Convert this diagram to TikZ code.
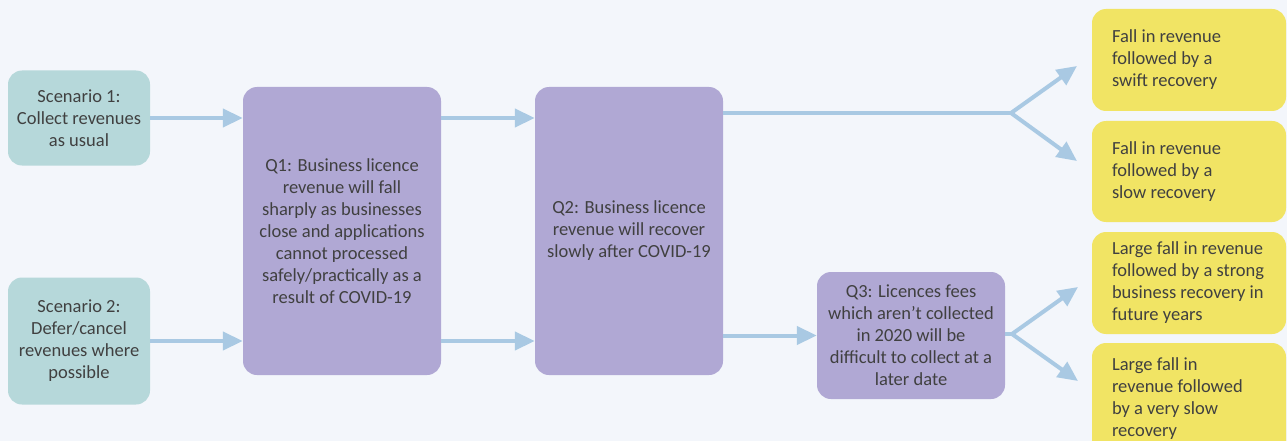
\documentclass[tikz,border=0pt]{standalone}
\usepackage{fontspec}
\setmainfont{Carlito}
\usetikzlibrary{arrows.meta}
\definecolor{bgc}{HTML}{F3F6FB}
\definecolor{tealc}{HTML}{B6D8DA}
\definecolor{purc}{HTML}{B0A8D4}
\definecolor{yelc}{HTML}{F1E464}
\definecolor{arrc}{HTML}{A9C9E3}
\definecolor{txtc}{HTML}{404040}
\tikzset{
  box/.style={rounded corners=14pt, inner sep=0pt, align=center, text=txtc,
    font=\fontsize{18.5}{22}\selectfont},
  scen/.style={box, fill=tealc, minimum width=142pt},
  quest/.style={box, fill=purc},
  outc/.style={box, fill=yelc, minimum width=194pt, text width=154pt, align=flush left},
  link/.style={draw=arrc, line width=4pt},
  arr/.style={link, -{Triangle[length=20pt,width=18pt]}},
}
\begin{document}
\begin{tikzpicture}[x=1pt,y=-1pt]
  \fill[bgc] (0,0) rectangle (1287,441);
  \useasboundingbox (0,0) rectangle (1287,441);
  \clip (0,0) rectangle (1287,441);

  % scenarios
  \node[scen, minimum height=95pt] (s1) at (79,118) {Scenario 1:\\Collect revenues\\as usual};
  \node[scen, minimum height=127pt] (s2) at (79,341) {Scenario 2:\\Defer/cancel\\revenues where\\possible};

  % questions
  \node[quest, minimum width=198pt, minimum height=288pt] (q1) at (342,231)
    {Q1: Business licence\\revenue will fall\\sharply as businesses\\close and applications\\cannot processed\\safely/practically as a\\result of COVID-19};
  \node[quest, minimum width=188pt, minimum height=288pt] (q2) at (629,231)
    {Q2: Business licence\\revenue will recover\\slowly after COVID-19};
  \node[quest, minimum width=188pt, minimum height=127pt] (q3) at (911,335.5)
    {Q3: Licences fees\\which aren’t collected\\in 2020 will be\\difficult to collect at a\\later date};

  % outcomes
  \node[outc, minimum height=102pt] (o1) at (1189,60) {Fall in revenue\\followed by a\\swift recovery};
  \node[outc, minimum height=101pt] (o2) at (1189,171.5) {Fall in revenue\\followed by a\\slow recovery};
  \node[outc, minimum height=102pt] (o3) at (1189,283) {Large fall in revenue\\followed by a strong\\business recovery in\\future years};
  \node[outc, minimum height=112pt] (o4) at (1189,399) {Large fall in\\revenue followed\\by a very slow\\recovery};

  % connectors
  \draw[arr] (s1.east) -- (s1.east -| q1.west);
  \draw[arr] (s2.east) -- (s2.east -| q1.west);
  \draw[arr] (q1.east |- s1.east) -- (q2.west |- s1.east);
  \draw[arr] (q1.east |- s2.east) -- (q2.west |- s2.east);
  \draw[arr] (q2.east |- q3.west) -- (q3.west);

  \coordinate (b1) at (1011,113);
  \coordinate (t1) at (1077,66);
  \coordinate (t2) at (1077,161);
  \draw[link] (q2.east |- b1) -- (b1);
  \draw[arr] (b1) -- (t1);
  \draw[arr] (b1) -- (t2);

  \coordinate (b2) at (1012,334);
  \coordinate (t3) at (1078,287);
  \coordinate (t4) at (1078,381);
  \draw[link] (q3.east |- b2) -- (b2);
  \draw[arr] (b2) -- (t3);
  \draw[arr] (b2) -- (t4);
\end{tikzpicture}
\end{document}
